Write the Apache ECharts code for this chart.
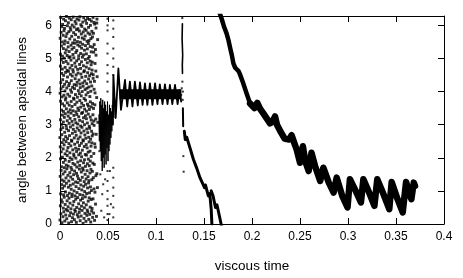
<!DOCTYPE html>
<html><head><meta charset="utf-8">
<script src="https://cdn.jsdelivr.net/npm/echarts@6/dist/echarts.min.js"></script>
<style>html,body{margin:0;padding:0;background:#fff}#c{width:463px;height:278px}</style>
</head><body><div id="c"></div>
<script>
// chaotic phase: columns of scattered points
const chaosX = [0,0.001,0.002,0.003,0.004,0.005,0.006,0.007,0.008,0.009,0.010,0.011,0.012,0.013,0.014,0.015,0.016,0.017,0.018,0.019,0.020,0.021,0.022,0.023,0.024,0.025,0.026,0.027,0.028,0.029,0.030,0.031,0.032,0.033,0.034,0.035,0.036,0.037,0.038,0.039];
// small x spread of the points inside a column (by rank in the column)
const chaosSpread = [0.0000,0.0004,-0.0003,0.0002,-0.0005,0.0003,-0.0001,0.0005,-0.0004,0.0001,-0.0002,0.0004,-0.0005,0.0002,-0.0003];
const chaosY = [
[.12,.55,1.02,1.44,1.81,2.33,2.61,3.15,3.52,3.95,4.41,4.77,5.22,5.61,6.11],
[.31,.73,.91,1.62,1.97,2.18,2.85,3.01,3.71,4.08,4.27,4.96,5.13,5.79,6.24],
[.04,.66,1.19,1.33,1.73,2.46,2.70,3.29,3.44,3.84,4.55,4.68,5.38,5.50,5.96],
[.22,.48,1.08,1.51,2.02,2.27,2.91,3.08,3.63,4.15,4.36,4.88,5.07,5.70,6.03],
[.37,.81,.88,1.29,1.86,2.39,2.55,3.22,3.40,3.89,4.49,5.01,5.30,5.84,6.19],
[.09,.59,1.15,1.58,1.70,2.12,2.77,3.33,3.57,4.02,4.22,4.73,5.44,5.53,5.91],
[.27,.44,.97,1.39,1.93,2.49,2.64,2.97,3.75,3.81,4.58,4.91,5.17,5.66,6.14],
[.16,.70,1.23,1.67,1.78,2.21,2.88,3.12,3.48,4.11,4.30,4.64,5.26,5.75,6.27],
[.40,.52,.86,1.47,2.07,2.31,2.58,3.26,3.66,3.92,4.44,4.84,5.09,5.48,5.99],
[.03,.78,1.11,1.30,1.75,2.43,2.82,3.04,3.38,4.18,4.61,5.03,5.35,5.81,6.08],
[.25,.63,.93,1.55,1.89,2.15,2.67,3.19,3.59,3.86,4.25,4.71,5.21,5.59,6.22],
[.34,.46,1.17,1.42,2.00,2.36,2.93,3.35,3.45,4.05,4.52,4.95,5.05,5.86,5.93],
[.07,.83,1.05,1.64,1.71,2.50,2.53,3.10,3.70,3.98,4.33,4.79,5.40,5.67,6.17],
[.19,.57,.90,1.35,1.95,2.24,2.74,2.99,3.55,4.13,4.47,4.66,5.28,5.47,6.01],
[.30,.68,1.21,1.49,1.83,2.11,2.86,3.28,3.42,3.80,4.59,5.02,5.12,5.78,6.25],
[.13,.43,1.00,1.60,2.05,2.41,2.60,3.16,3.77,4.09,4.21,4.86,5.33,5.56,5.95],
[.38,.75,.85,1.27,1.79,2.29,2.79,3.06,3.61,3.91,4.39,4.75,5.46,5.72,6.12],
[.05,.50,1.13,1.53,1.99,2.19,2.68,3.31,3.39,4.19,4.50,4.93,5.18,5.87,6.05],
[.28,.80,.95,1.45,1.72,2.47,2.90,3.02,3.68,3.83,4.28,4.67,5.24,5.51,6.20],
[.21,.61,1.25,1.37,1.87,2.26,2.57,3.24,3.50,4.03,4.56,4.99,5.41,5.64,5.90],
[.35,.45,1.07,1.66,2.09,2.37,2.83,3.13,3.43,3.94,4.35,4.82,5.08,5.83,6.16],
[.10,.72,.89,1.32,1.77,2.14,2.63,2.96,3.73,4.12,4.23,4.70,5.37,5.49,6.26],
[.24,.54,1.18,1.57,1.91,2.44,2.75,3.34,3.53,3.87,4.53,4.90,5.15,5.74,6.02],
[.41,.77,1.03,1.41,2.03,2.23,2.92,3.09,3.65,4.00,4.43,5.04,5.31,5.62,5.97],
[.02,.64,.87,1.63,1.69,2.51,2.54,3.21,3.37,4.16,4.26,4.78,5.43,5.80,6.10],
[.17,.49,1.14,1.28,1.85,2.34,2.81,3.00,3.58,3.79,4.60,4.63,5.11,5.58,6.23],
[.32,.82,.98,1.50,1.94,2.10,2.69,3.27,3.47,4.06,4.32,4.97,5.25,5.68,5.89],
[.08,.58,1.20,1.36,1.74,2.40,2.59,3.18,3.74,3.90,4.46,4.74,5.39,5.85,6.15],
[.26,.42,.92,1.61,2.08,2.30,2.87,3.05,3.41,4.10,4.24,4.87,5.14,5.52,6.06],
[.36,.69,1.09,1.43,1.82,2.17,2.76,3.32,3.62,3.97,4.57,5.00,5.29,5.77,6.21],
[.14,.79,1.24,1.31,1.96,2.48,2.62,2.95,3.56,4.14,4.38,4.69,5.45,5.54,5.94],
[.29,.51,.94,1.54,1.76,2.20,2.89,3.23,3.46,3.85,4.48,4.92,5.06,5.73,6.18],
[.06,.74,1.12,1.65,1.90,2.35,2.56,3.14,3.69,4.01,4.29,4.81,5.36,5.60,6.00],
[.39,.47,1.01,1.34,2.04,2.45,2.80,3.03,3.54,4.17,4.54,4.65,5.20,5.82,6.13],
[.20,.76,1.59,1.84,2.66,3.30,3.64,4.40,4.89,5.34,5.65,6.24],
[.33,1.06,1.40,2.13,2.72,3.11,3.49,4.07,4.51,5.19,5.76,6.09],
[.11,.96,1.80,2.42,2.98,3.60,4.31,4.85,5.42,6.04],
[.60,1.46,2.32,3.17,3.96,4.62,5.27,5.92],
[.23,1.52,2.71,3.82,5.10,6.07],
[1.10,3.07,4.45,5.57,6.19]
];
// stray points of the transition
const strayX = [0.0495,0.0495,0.0495,0.0495,0.0495,0.0495,0.0495,0.0495,0.0495,0.0495,0.0495,0.0495,0.0495,0.0495,0.0495,0.0495,
0.0555,0.0555,0.0555,0.0555,0.0555,0.0555,0.0555,0.0555,0.0555,0.0555,0.0555,0.0555,0.0555,
0.043,0.044,0.042,0.045,0.046,0.041,0.047,0.052,0.053,0.0515,0.1275,0.128,0.1278,0.1285,0.1288,0.1262,0.1268,0.1274];
const strayY = [6.2,6.0,5.85,5.45,5.15,4.8,4.55,4.3,4.0,1.6,1.3,1.0,0.75,0.55,0.3,0.12,
6.15,5.9,5.65,5.3,5.0,4.75,4.5,1.7,1.4,1.1,0.85,0.5,0.2,
0.4,0.9,1.5,1.2,0.2,2.2,1.35,1.6,0.6,0.3,4.3,4.0,3.75,2.05,1.58,3.9,4.1,6.22];
// dense cluster of the transition
const clusterX = [0.0405,0.041,0.0415,0.042,0.0425,0.043,0.0435,0.044,0.0445,0.045,0.0455,0.046,0.0465,0.047,0.0475,0.048,0.0485,0.049,0.0495,0.050,0.0505,0.051,0.0515,0.052,0.0525,0.053,0.0535,0.054,0.0545,0.055,0.0555,0.056,0.057];
const clusterY = [3.3,2.5,3.7,2.2,3.8,1.9,3.6,1.6,3.75,2.0,3.5,1.7,3.7,2.1,3.6,1.8,3.4,2.3,3.7,1.9,3.3,2.2,3.6,2.4,3.5,2.6,3.4,2.8,3.6,3.0,3.7,3.2,3.8];
// locked band near 3.9
const coreX = [0.062,0.1265];
const coreY = [3.92,3.92];
const teethX = [0.055,0.0556,0.058,0.0608,0.0635,0.0677,0.070,0.0728,0.0755,0.078,0.081,0.0833,0.086,0.0885,0.091,0.0937,0.0963,0.099,0.1015,0.104,0.1068,0.1093,0.112,0.1145,0.117,0.1198,0.1225,0.1245,0.1262];
const teethY = [3.0,4.5,3.2,4.7,3.45,4.35,3.55,4.3,3.55,4.3,3.58,4.28,3.6,4.25,3.6,4.25,3.6,4.25,3.62,4.22,3.62,4.22,3.62,4.2,3.62,4.2,3.62,4.05,3.7];
// jump column near 0.128
const jumpTopX = [0.1275,0.1272,0.1278,0.1274,0.1276];
const jumpTopY = [6.05,5.6,5.1,4.8,4.55];
const jumpMidX = [0.128,0.1283];
const jumpMidY = [3.5,2.95];
// lower descending strands
const lowAX = [0.1295,0.1305,0.132,0.1354,0.139,0.1425,0.1458,0.149,0.1505,0.1515,0.1545,0.156,0.1575,0.1582];
const lowAY = [2.8,2.55,2.62,2.3,1.95,1.68,1.4,1.2,1.1,1.18,0.85,0.92,0.45,0.0];
const lowBX = [0.1575,0.1594,0.162,0.1635,0.1665,0.1685];
const lowBY = [1.0,0.85,0.5,0.58,0.18,-0.1];
// main descending band
const mainTopX = [0.1660,0.1684,0.1710,0.1736,0.1755,0.1770,0.1790,0.1806,0.1825,0.1840,0.1860,0.1875,0.1905,0.1944,0.1980];
const mainTopY = [6.40,6.2,5.95,5.75,5.55,5.35,5.1,4.85,4.72,4.66,4.62,4.52,4.28,3.94,3.64];
const mainX = [0.1980,0.2025,0.2055,0.2085,0.2118,0.2188,0.2215,0.224,0.226,0.229,0.234,0.2385,0.2413,0.244,0.2465,0.250,0.253,0.2555,0.259,0.262,0.266,0.271,0.2743,0.280,0.285,0.2882,0.294,0.2995,0.302,0.308,0.3135,0.316,0.322,0.3275,0.3305,0.337,0.343,0.3455,0.351,0.357,0.3605,0.364,0.366,0.3685,0.3698];
const mainY = [3.64,3.50,3.66,3.48,3.34,3.04,3.1,3.25,3.0,2.83,2.58,2.55,2.68,2.45,2.25,1.85,2.35,1.9,1.6,2.15,1.72,1.3,1.7,1.25,0.95,1.4,0.85,0.5,1.35,1.0,0.65,1.35,0.95,0.55,1.35,0.9,0.45,1.27,0.8,0.35,1.27,0.9,0.75,1.25,1.15];

const pairs = (xs, ys) => xs.map((x, i) => [x, ys[i]]);
const chaosData = chaosX.flatMap((x, i) => chaosY[i].map((y, j) => [x + chaosSpread[j], y]));
const K = '#000';
const lineS = (xs, ys, w, cap) => ({type:'line', data:pairs(xs, ys), showSymbol:false, symbol:'none',
  lineStyle:{color:K, width:w, join:'round', cap:cap || 'round'}, silent:true, z:3});

const chart = echarts.init(document.getElementById('c'), null, {renderer:'canvas'});
const axisBase = {
  type:'value', axisLine:{show:true, onZero:false, lineStyle:{color:K, width:1}},
  axisTick:{show:true, inside:true, length:6, lineStyle:{color:K}}, splitLine:{show:false}
};
chart.setOption({
  animation:false,
  backgroundColor:'#fff',
  textStyle:{fontFamily:'Liberation Sans'},
  grid:{left:60, right:19, top:16, bottom:54},
  xAxis:[
    Object.assign({}, axisBase, {min:0, max:0.4, interval:0.05, position:'bottom',
      name:'viscous time', nameLocation:'middle', nameGap:35,
      nameTextStyle:{fontSize:13.5, color:K, fontFamily:'Liberation Sans'},
      axisLabel:{color:K, fontSize:12, margin:7, formatter:v => String(+v.toFixed(2))}}),
    Object.assign({}, axisBase, {min:0, max:0.4, interval:0.05, position:'top', axisLabel:{show:false}})
  ],
  yAxis:[
    Object.assign({}, axisBase, {min:0, max:6.2832, interval:1, position:'left',
      name:'angle between apsidal lines', nameLocation:'middle', nameGap:31,
      nameTextStyle:{fontSize:13.5, color:K, fontFamily:'Liberation Sans'},
      axisLabel:{color:K, fontSize:12, margin:8, formatter:v => Number.isInteger(v) ? String(v) : ''}}),
    Object.assign({}, axisBase, {min:0, max:6.2832, interval:1, position:'right', axisLabel:{show:false}})
  ],
  series:[
    {type:'scatter', data:chaosData, symbol:'rect', symbolSize:2.9, itemStyle:{color:K}, silent:true},
    {type:'scatter', data:pairs(strayX, strayY), symbol:'rect', symbolSize:2, itemStyle:{color:K}, silent:true},
    lineS(clusterX, clusterY, 1),
    lineS(coreX, coreY, 10, 'butt'),
    lineS(teethX, teethY, 1.8),
    lineS(jumpTopX, jumpTopY, 1.6),
    lineS(jumpMidX, jumpMidY, 2),
    lineS(lowAX, lowAY, 3),
    lineS(lowBX, lowBY, 3),
    lineS(mainTopX, mainTopY, 4.5),
    lineS(mainX, mainY, 6.5)
  ]
});
</script></body></html>
